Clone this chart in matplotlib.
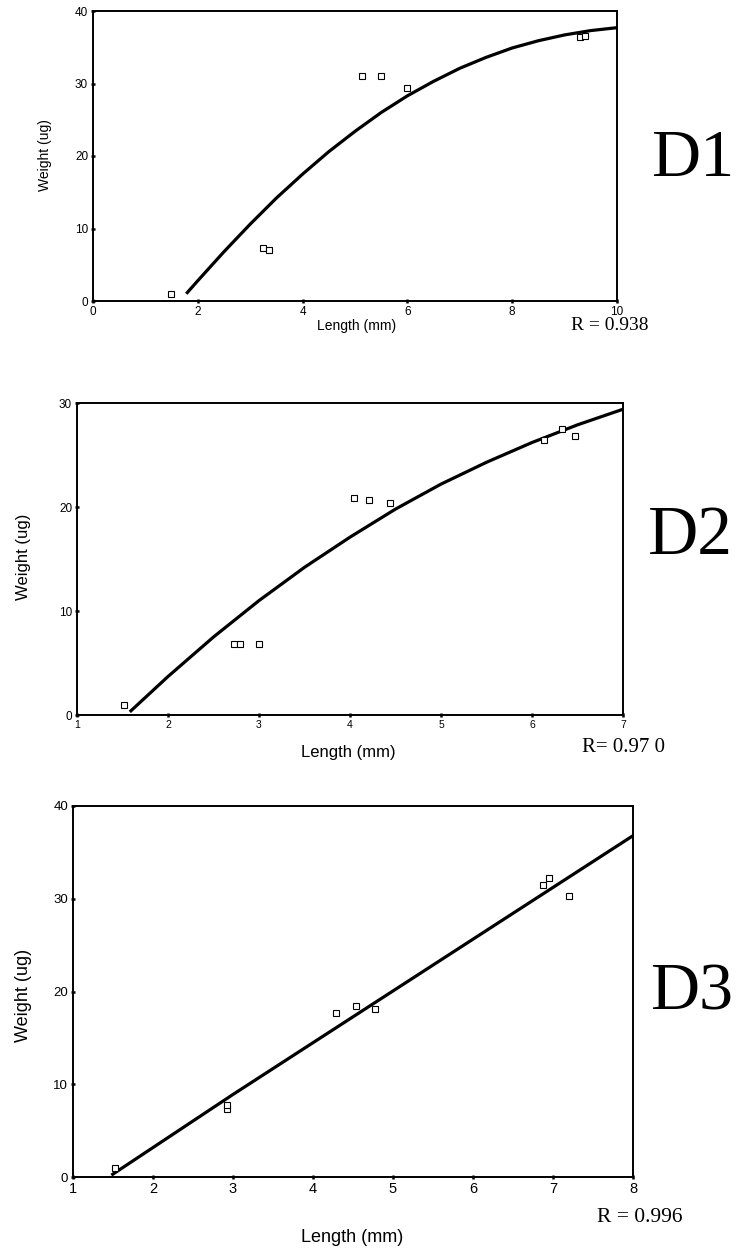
import numpy as np
import matplotlib
matplotlib.use("Agg")
import matplotlib.pyplot as plt

# D1 data (length mm, weight ug)
d1_len = [1.49, 3.24, 3.35, 5.13, 5.49, 5.99, 9.30, 9.38]
d1_wt = [1.0, 7.3, 7.1, 31.0, 31.1, 29.4, 36.4, 36.6]
d1_fit_x = [1.78, 2.0, 2.5, 3.0, 3.5, 4.0, 4.5, 5.0, 5.5, 6.0, 6.5, 7.0, 7.5, 8.0, 8.5, 9.0, 9.5, 10.0]
d1_fit_y = [1.0, 2.8, 6.8, 10.6, 14.2, 17.5, 20.6, 23.4, 26.0, 28.3, 30.3, 32.1, 33.6, 34.9, 35.9, 36.7, 37.3, 37.7]

# D2 data
d2_len = [1.52, 2.72, 2.79, 3.00, 4.04, 4.21, 4.44, 6.13, 6.33, 6.47]
d2_wt = [0.96, 6.8, 6.8, 6.8, 20.9, 20.7, 20.35, 26.4, 27.5, 26.8]
d2_fit_x = [1.58, 2.0, 2.5, 3.0, 3.5, 4.0, 4.5, 5.0, 5.5, 6.0, 6.5, 7.0]
d2_fit_y = [0.3, 3.7, 7.5, 11.0, 14.2, 17.1, 19.8, 22.2, 24.3, 26.2, 27.9, 29.4]

# D3 data
d3_len = [1.52, 2.93, 2.93, 4.29, 4.54, 4.78, 6.88, 6.95, 7.20]
d3_wt = [0.97, 7.3, 7.8, 17.7, 18.4, 18.1, 31.5, 32.2, 30.3]
d3_fit_x = [1.48, 3.0, 8.0]
d3_fit_y = [0.2, 8.9, 36.8]

W, H = 739, 1251
fig = plt.figure(figsize=(W / 100, H / 100), dpi=100)
sans = "Liberation Sans"
serif = "Liberation Serif"


def px_axes(left, right, top, bottom):
    return fig.add_axes([left / W, 1 - bottom / H, (right - left) / W, (bottom - top) / H])


def style(ax, xlim, ylim, xticks, yticks, tick_fs, xtick_fs):
    ax.set_xlim(*xlim)
    ax.set_ylim(*ylim)
    ax.set_xticks(xticks)
    ax.set_yticks(yticks)
    for s in ax.spines.values():
        s.set_linewidth(1.4)
    ax.tick_params(direction="inout", length=3, width=1.8, pad=2)
    for lab in ax.get_yticklabels():
        lab.set_fontfamily(sans)
        lab.set_fontsize(tick_fs)
    for lab in ax.get_xticklabels():
        lab.set_fontfamily(sans)
        lab.set_fontsize(xtick_fs)


def draw(ax, xs, ys, fx, fy):
    ax.plot(fx, fy, color="black", lw=2.3, solid_capstyle="butt", solid_joinstyle="round", zorder=2)
    ax.plot(xs, ys, ls="none", marker="s", ms=4.5, mfc="white", mec="black", mew=0.8, zorder=3)


# panel D1
ax1 = px_axes(93, 617, 11, 301)
draw(ax1, d1_len, d1_wt, d1_fit_x, d1_fit_y)
style(ax1, (0, 10), (0, 40), range(0, 11, 2), range(0, 41, 10), 8.5, 8.5)
fig.text(45 / W, 1 - 155 / H, "Weight (ug)", rotation=90, ha="center", va="center",
         family=sans, fontsize=10)
fig.text(357 / W, 1 - 326 / H, "Length (mm)", ha="center", va="center", family=sans, fontsize=10)
fig.text(610 / W, 1 - 325 / H, "R = 0.938", ha="center", va="center", family=serif, fontsize=14)
fig.text(693 / W, 1 - 160 / H, "D1", ha="center", va="center", family=serif, fontsize=49)

# panel D2
ax2 = px_axes(77, 623, 403, 715)
draw(ax2, d2_len, d2_wt, d2_fit_x, d2_fit_y)
style(ax2, (1, 7), (0, 30), range(1, 8), range(0, 31, 10), 8.5, 7.5)
fig.text(24 / W, 1 - 557 / H, "Weight (ug)", rotation=90, ha="center", va="center",
         family=sans, fontsize=12)
fig.text(348 / W, 1 - 753 / H, "Length (mm)", ha="center", va="center", family=sans, fontsize=12)
fig.text(624 / W, 1 - 748 / H, "R= 0.97 0", ha="center", va="center", family=serif, fontsize=15)
fig.text(690 / W, 1 - 537 / H, "D2", ha="center", va="center", family=serif, fontsize=50)

# panel D3
ax3 = px_axes(73, 633, 806, 1177)
draw(ax3, d3_len, d3_wt, d3_fit_x, d3_fit_y)
style(ax3, (1, 8), (0, 40), range(1, 9), range(0, 41, 10), 9.5, 10.5)
fig.text(24 / W, 1 - 995 / H, "Weight (ug)", rotation=90, ha="center", va="center",
         family=sans, fontsize=13)
fig.text(352 / W, 1 - 1237 / H, "Length (mm)", ha="center", va="center", family=sans, fontsize=13)
fig.text(640 / W, 1 - 1218 / H, "R = 0.996", ha="center", va="center", family=serif, fontsize=15.5)
fig.text(692 / W, 1 - 993 / H, "D3", ha="center", va="center", family=serif, fontsize=49)

fig.savefig("out.png", dpi=100)
